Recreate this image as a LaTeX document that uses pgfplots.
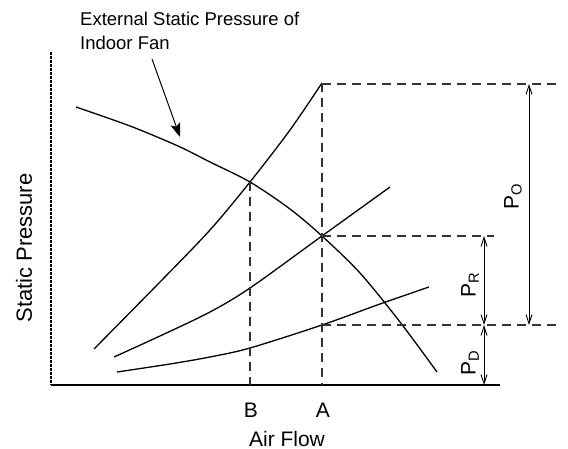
\documentclass[border=0pt]{standalone}
\usepackage{pgfplots}
\pgfplotsset{compat=1.18}
\usepackage{fontspec}
\setmainfont{Liberation Sans}
\usetikzlibrary{arrows.meta}

\begin{document}
\begin{tikzpicture}
\begin{axis}[
  scale only axis, width=568pt, height=449pt,
  xmin=0, xmax=568, ymin=0, ymax=449, y dir=reverse,
  hide axis, clip=false,
  crv/.style={line width=1.3pt, black, no markers},
  dim/.style={line width=1.5pt, black!80, dash pattern=on 9pt off 6pt, no markers},
  dimarrow/.style={line width=0.9pt, black, no markers, {Straight Barb[length=9pt,width=6pt]}-{Straight Barb[length=9pt,width=6pt]}},
]
% axes
\addplot[crv, line width=1.4pt, dash pattern=on 3pt off 1pt] coordinates {(51,52) (51,385)};
\addplot[crv] coordinates {(51,385) (500,385)};

% fan curve
\addplot[crv, smooth] coordinates {(76,107) (130,126) (178,146) (210,162) (250,182) (290,209) (322,236) (360,273) (400,322) (437,372)};
% system curves
\addplot[crv, smooth] coordinates {(94,349) (160,282) (210,230) (250,182) (290,130) (322,83)};
\addplot[crv, smooth] coordinates {(114,357) (160,336) (210,312) (250,288) (322,236) (390,187)};
\addplot[crv, smooth] coordinates {(117,372) (170,364) (210,357) (250,348) (322,325) (380,304) (429,287)};

% dashed guides
\addplot[dim] coordinates {(322,83) (322,385)};
\addplot[dim] coordinates {(250,182) (250,385)};
\addplot[dim] coordinates {(322,84) (558,84)};
\addplot[dim] coordinates {(322,236) (494,236)};
\addplot[dim] coordinates {(322,325) (558,325)};

% dimension arrows
\addplot[dimarrow] coordinates {(529,84) (529,325)};
\addplot[dimarrow] coordinates {(484,236) (484,325)};
\addplot[dimarrow] coordinates {(484,325) (484,385)};

% annotation arrow
\addplot[crv, line width=1pt, -{Stealth[length=14pt,width=10pt,inset=3pt]}] coordinates {(152,59) (180,137)};

\node[anchor=north west, align=left, font=\fontsize{18.5}{23.5}\selectfont, inner sep=0pt] at (axis cs:80,12) {External Static Pressure of\\Indoor Fan};

\node[rotate=90, font=\fontsize{21}{24}\selectfont] at (axis cs:513,197) {P\textsubscript{O}};
\node[rotate=90, font=\fontsize{21}{24}\selectfont] at (axis cs:470,285) {P\textsubscript{R}};
\node[rotate=90, font=\fontsize{21}{24}\selectfont] at (axis cs:470,363) {P\textsubscript{D}};

\node[font=\fontsize{21}{24}\selectfont, anchor=base] at (axis cs:251,417) {B};
\node[font=\fontsize{21}{24}\selectfont, anchor=base] at (axis cs:323,417) {A};
\node[font=\fontsize{21}{24}\selectfont, anchor=base] at (axis cs:287,446) {Air Flow};
\node[font=\fontsize{22}{24}\selectfont, rotate=90] at (axis cs:24,248) {Static Pressure};
\end{axis}
\pgfresetboundingbox
\path[use as bounding box] (current axis.south west) rectangle (current axis.north east);
\end{tikzpicture}
\end{document}
